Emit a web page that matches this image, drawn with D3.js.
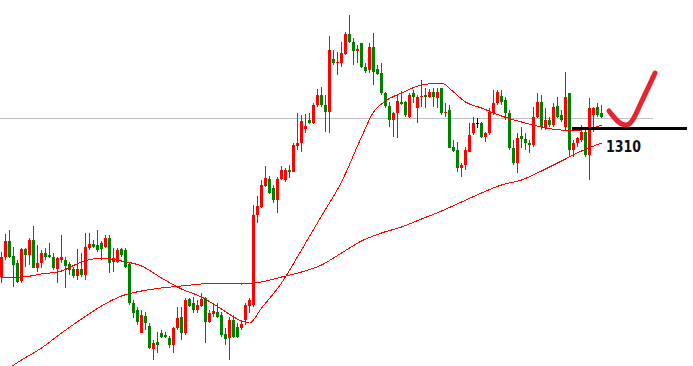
<!DOCTYPE html>
<html>
<head>
<meta charset="utf-8">
<script src="https://cdn.jsdelivr.net/npm/d3@7"></script>
<style>
  html, body { margin: 0; padding: 0; background: #ffffff; }
  svg { display: block; }
</style>
</head>
<body>
<div id="chart"></div>
<script>
// Candle data, one entry per bar
const openP = [1295.1,1297.1,1298.7,1297.2,1296.5,1294.7,1297.9,1297.3,1298.8,1296.0,
  1296.5,1297.5,1297.3,1297.1,1295.9,1296.8,1296.8,1296.4,1295.9,1295.2,
  1295.9,1295.3,1298.0,1298.4,1298.3,1298.5,1298.1,1299.0,1296.6,1296.6,
  1297.9,1297.8,1296.4,1292.5,1291.8,1289.5,1291.2,1290.2,1287.9,1288.6,
  1289.5,1289.3,1289.0,1288.3,1290.0,1291.1,1289.5,1292.9,1292.5,1291.8,
  1292.2,1293.0,1290.6,1291.4,1291.6,1291.3,1289.4,1289.0,1290.8,1290.1,
  1290.0,1290.8,1292.2,1292.3,1301.3,1302.1,1304.2,1304.9,1304.0,1302.8,
  1304.9,1304.8,1305.8,1305.6,1308.2,1308.5,1309.9,1310.8,1310.5,1312.3,
  1313.3,1312.3,1311.6,1316.9,1316.5,1316.5,1317.4,1319.4,1318.6,1317.7,
  1318.5,1316.1,1315.8,1318.1,1315.9,1315.5,1313.5,1312.2,1310.8,1311.5,
  1312.6,1312.6,1311.1,1313.5,1312.0,1313.1,1313.3,1313.1,1313.6,1313.0,
  1314.0,1311.5,1311.8,1308.1,1307.8,1306.0,1306.3,1307.6,1309.5,1310.5,
  1310.5,1309.1,1309.5,1311.5,1312.5,1313.2,1312.8,1311.5,1308.0,1306.5,
  1309.2,1308.9,1308.5,1308.3,1311.1,1312.6,1310.1,1310.8,1310.3,1312.2,
  1311.3,1310.1,1313.5,1307.8,1308.5,1308.8,1309.6,1307.3,1311.3,1312.1,
  1311.5];
const highP = [1297.6,1299.4,1299.8,1298.1,1296.8,1298.0,1298.0,1299.0,1300.2,1298.3,
  1297.8,1298.0,1298.5,1297.5,1297.1,1299.3,1297.1,1296.6,1296.1,1297.9,
  1297.5,1299.5,1299.5,1298.8,1299.8,1298.7,1299.3,1299.3,1298.0,1298.0,
  1298.0,1298.0,1296.5,1292.8,1292.1,1291.8,1291.6,1290.5,1288.8,1289.6,
  1289.8,1289.6,1289.2,1290.1,1292.1,1292.1,1293.0,1293.0,1293.1,1292.8,
  1293.5,1293.1,1291.8,1292.5,1292.5,1291.6,1290.0,1291.1,1291.3,1290.5,
  1290.6,1292.5,1293.0,1302.3,1303.2,1304.8,1306.2,1305.2,1304.3,1305.1,
  1306.2,1306.0,1306.3,1308.5,1311.5,1311.3,1311.4,1311.5,1312.5,1313.9,
  1314.1,1313.3,1319.2,1317.8,1317.6,1318.6,1319.6,1321.3,1319.0,1318.3,
  1318.5,1316.5,1318.5,1319.5,1316.3,1316.5,1313.6,1312.6,1311.6,1313.3,
  1313.7,1312.7,1313.5,1313.8,1313.3,1314.8,1314.0,1313.9,1314.0,1314.0,
  1314.0,1312.5,1312.3,1308.8,1308.6,1306.5,1308.1,1310.5,1311.1,1311.0,
  1310.6,1309.6,1312.0,1313.8,1313.8,1313.8,1313.1,1311.8,1308.8,1309.5,
  1310.1,1309.5,1308.8,1312.1,1313.5,1313.3,1312.0,1311.1,1312.5,1313.1,
  1311.8,1315.6,1313.5,1308.8,1309.1,1310.3,1310.1,1313.0,1312.1,1312.5,
  1312.3];
const lowP = [1294.5,1296.8,1297.0,1294.1,1294.5,1294.5,1296.1,1296.3,1296.0,1295.6,
  1296.0,1296.8,1297.0,1295.8,1294.5,1296.5,1294.0,1295.3,1295.0,1294.8,
  1295.1,1294.8,1297.8,1298.0,1297.6,1296.8,1298.0,1295.5,1295.6,1296.5,
  1297.1,1296.0,1292.3,1291.0,1290.3,1289.5,1289.8,1287.9,1286.8,1287.5,
  1289.0,1289.0,1288.0,1287.5,1289.8,1288.8,1289.3,1292.1,1291.5,1291.5,
  1292.1,1288.5,1290.5,1291.1,1291.0,1289.1,1288.3,1286.8,1289.0,1289.0,
  1289.8,1290.3,1291.5,1292.1,1300.5,1302.0,1304.1,1303.4,1302.5,1301.5,
  1304.8,1304.6,1305.0,1305.6,1307.8,1307.6,1309.5,1310.4,1310.4,1312.1,
  1312.1,1309.6,1309.5,1316.3,1315.3,1316.1,1317.3,1318.5,1316.3,1316.5,
  1316.0,1315.5,1315.5,1314.3,1315.3,1313.3,1312.0,1310.1,1309.1,1309.0,
  1312.3,1311.1,1311.0,1312.5,1310.5,1312.1,1312.0,1313.0,1312.1,1312.0,
  1311.3,1311.1,1308.0,1307.6,1305.6,1305.1,1305.8,1307.6,1309.3,1310.0,
  1309.0,1308.6,1309.3,1311.3,1312.3,1312.3,1310.8,1307.8,1306.3,1305.5,
  1308.0,1307.8,1307.5,1308.1,1311.0,1309.8,1309.8,1310.1,1310.1,1311.0,
  1310.6,1309.8,1307.1,1307.1,1308.1,1308.6,1307.1,1304.8,1309.6,1311.1,
  1311.0];
const closeP = [1297.1,1298.7,1297.1,1296.3,1294.6,1297.9,1297.3,1298.8,1296.0,1296.5,
  1297.5,1297.1,1297.1,1296.0,1297.0,1297.1,1296.2,1295.8,1295.2,1295.9,
  1295.3,1298.1,1298.4,1298.1,1297.8,1297.9,1299.0,1296.5,1297.0,1297.8,
  1297.3,1296.1,1292.5,1291.5,1290.6,1291.3,1290.5,1288.0,1288.5,1288.3,
  1289.1,1289.1,1288.3,1290.0,1291.0,1289.5,1292.8,1292.2,1291.8,1292.3,
  1292.9,1290.6,1291.5,1291.7,1291.1,1289.3,1288.9,1290.8,1289.1,1289.1,
  1290.4,1292.3,1292.8,1301.3,1302.2,1304.3,1305.0,1303.5,1302.8,1304.9,
  1305.8,1305.8,1305.6,1308.3,1308.5,1310.7,1310.2,1310.5,1312.3,1313.3,
  1312.3,1311.6,1317.8,1316.5,1316.6,1317.5,1319.4,1318.6,1317.7,1317.9,
  1316.1,1315.7,1318.1,1315.6,1315.4,1313.5,1312.2,1310.8,1311.5,1312.7,
  1312.4,1311.3,1313.3,1313.1,1313.1,1313.2,1313.1,1313.6,1313.1,1313.6,
  1311.5,1311.6,1308.0,1307.7,1306.0,1306.3,1307.8,1309.3,1310.5,1310.5,
  1309.1,1309.5,1311.6,1312.5,1313.6,1312.6,1311.5,1308.0,1306.5,1309.0,
  1308.9,1308.5,1308.3,1311.1,1312.6,1310.1,1310.8,1310.3,1312.1,1311.1,
  1310.8,1313.1,1307.8,1308.5,1309.0,1309.6,1307.3,1312.0,1312.0,1311.3,
  1311.1];

// Moving averages, sampled at these bar indexes
const maIndex = [0,5,10,15,20,25,30,35,40,45,50,55,60,62,65,70,75,80,85,90,93,96,
  100,105,110,113,116,120,125,130,135,140,145,150];
const maFast = [1295.1,1295.1,1295.4,1295.7,1296.6,1297.0,1296.7,1296.2,1295.0,1293.9,
  1293.1,1291.9,1290.7,1290.5,1292.0,1294.5,1297.8,1301.2,1304.6,1309.1,1311.6,1312.7,
  1313.5,1314.3,1314.5,1313.6,1312.6,1312.0,1311.2,1310.6,1310.1,1309.8,1309.8,1310.3];
const slowIndex = [0,5,10,15,20,25,30,35,40,45,50,55,60,65,70,75,80,85,90,95,100,
  105,110,115,120,125,130,135,140,145,150];
const maSlow = [1285.5,1286.8,1288.0,1289.5,1290.9,1292.2,1293.2,1293.7,1294.0,1294.2,
  1294.4,1294.5,1294.4,1294.6,1295.1,1295.6,1296.3,1297.5,1298.7,1299.5,1300.1,
  1300.9,1301.7,1302.6,1303.5,1304.3,1304.8,1305.7,1306.7,1307.7,1308.5];

// Reference levels
const bidPrice = 1311.0;
const supportLevel = 1310;
const supportLabel = "1310";

const width = 693;
const height = 366;
const upColor = "#ff0000";
const downColor = "#008000";

const candles = openP.map((o, i) => ({
  i: i, open: o, high: highP[i], low: lowP[i], close: closeP[i]
}));

const svg = d3.select("#chart")
  .append("svg")
    .attr("width", width)
    .attr("height", height);

// Scales
const xScale = d3.scaleLinear()
  .domain([0, candles.length - 1])
  .range([1.5, 1.5 + 4 * (candles.length - 1)]);
const yScale = d3.scaleLinear()
  .domain([1322.8, 1286.2])
  .range([0, height]);

// grey bid line sits behind the candles
svg.append("line")
  .attr("x1", 0)
  .attr("x2", 653)
  .attr("y1", Math.round(yScale(bidPrice)) + 0.5)
  .attr("y2", Math.round(yScale(bidPrice)) + 0.5)
  .attr("stroke", "#c0c0c0")
  .attr("stroke-width", 1);

const candleColor = d => d.close > d.open ? upColor : (d.close < d.open ? downColor : "#000000");

const bars = svg.append("g")
  .attr("class", "candles")
  .attr("shape-rendering", "crispEdges");

// wicks
bars.selectAll(".wick")
  .data(candles)
  .enter()
  .append("rect")
    .attr("class", "wick")
    .attr("x", d => Math.round(xScale(d.i) - 0.5))
    .attr("width", 1)
    .attr("y", d => Math.round(yScale(d.high)))
    .attr("height", d => Math.max(1, Math.round(yScale(d.low)) - Math.round(yScale(d.high))))
    .attr("fill", candleColor);

// bodies
bars.selectAll(".body")
  .data(candles)
  .enter()
  .append("rect")
    .attr("class", "body")
    .attr("x", d => Math.round(xScale(d.i) - 1.5))
    .attr("width", 3)
    .attr("y", d => Math.round(yScale(Math.max(d.open, d.close))))
    .attr("height", d => Math.max(1, Math.round(yScale(Math.min(d.open, d.close))) - Math.round(yScale(Math.max(d.open, d.close)))))
    .attr("fill", candleColor);

// Moving average lines (aliased, like the terminal draws them)
const maLine = d3.line()
  .x(d => xScale(d[0]))
  .y(d => yScale(d[1]))
  .curve(d3.curveMonotoneX);

svg.append("path")
  .datum(maIndex.map((k, j) => [k, maFast[j]]))
  .attr("d", maLine)
  .attr("fill", "none")
  .attr("stroke", "#ff0000")
  .attr("stroke-width", 1)
  .attr("shape-rendering", "crispEdges");

svg.append("path")
  .datum(slowIndex.map((k, j) => [k, maSlow[j]]))
  .attr("d", maLine)
  .attr("fill", "none")
  .attr("stroke", "#ff0000")
  .attr("stroke-width", 1)
  .attr("shape-rendering", "crispEdges");

// Support line + label
svg.append("line")
  .attr("x1", 572)
  .attr("x2", 687)
  .attr("y1", yScale(supportLevel) + 0.5)
  .attr("y2", yScale(supportLevel) + 0.5)
  .attr("stroke", "#000000")
  .attr("stroke-width", 3);

svg.append("text")
  .attr("x", 606)
  .attr("y", yScale(supportLevel) + 24)
  .attr("font-family", "'DejaVu Sans', sans-serif")
  .attr("font-weight", "bold")
  .attr("font-size", "16px")
  .attr("textLength", 35)
  .attr("lengthAdjust", "spacingAndGlyphs")
  .attr("fill", "#10101c")
  .text(supportLabel);

// hand drawn tick mark
svg.append("path")
  .attr("d", "M609,111 C614,117 618,124 625,125 C631,126 634,118 640,105 C646,92 651,82 655,73")
  .attr("fill", "none")
  .attr("stroke", "#e8232c")
  .attr("stroke-width", 5)
  .attr("stroke-linecap", "round")
  .attr("stroke-linejoin", "round");
</script>
</body>
</html>
